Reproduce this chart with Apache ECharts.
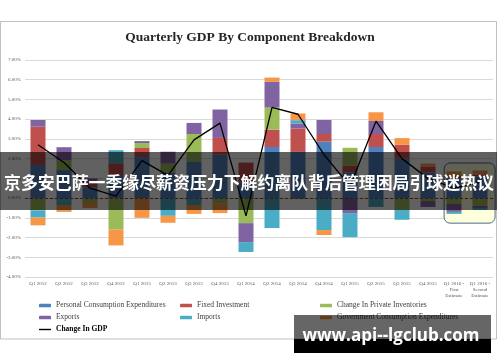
<!DOCTYPE html>
<html><head><meta charset="utf-8">
<script src="https://cdn.jsdelivr.net/npm/echarts@6/dist/echarts.min.js"></script>
<style>html,body{margin:0;padding:0;background:#fff}#c{width:500px;height:362px}</style>
</head><body><div id="c"></div>
<script>
const categories = ['Q1 2012','Q2 2012','Q3 2012','Q4 2012','Q1 2013','Q2 2013','Q3 2013','Q4 2013','Q1 2014','Q2 2014','Q3 2014','Q4 2014','Q1 2015','Q2 2015','Q3 2015','Q4 2015','Q1 2016 -\nFirst\nEstimate','Q1 2016 -\nSecond\nEstimate'];
const pce         = [1.68, 1.42, 0.55, 1.17, 2.08, 1.30, 1.83, 2.20, 0.80, 2.59, 2.34, 2.86, 1.30, 2.59, 2.00, 1.30, 1.00, 1.10];
const fixedInv    = [1.94, 0.00, 0.20, 0.60, 0.46, 0.00, 0.00, 0.85, 1.00, 0.88, 1.19, 0.39, 0.35, 0.66, 0.70, 0.30, 0.15, 0.10];
const inventories = [-0.62, 0.50, -0.25, -1.60, 0.25, 0.45, 1.42, -0.26, -1.27, 1.12, -0.05, 0.00, 0.90, 0.00, -0.60, -0.15, -0.30, -0.40];
const exportsC    = [0.34, 0.66, 0.25, 0.00, 0.10, 0.60, 0.56, 1.44, -0.96, 1.30, 0.25, 0.71, -0.76, 0.66, 0.00, -0.30, -0.40, -0.10];
const importsC    = [-0.37, -0.35, 0.00, 0.66, 0.00, -0.90, -0.35, 0.00, -0.50, -1.52, 0.17, -1.62, -1.22, -0.45, -0.50, 0.00, -0.10, -0.10];
const govC        = [-0.39, -0.35, -0.25, -0.80, -1.00, -0.35, -0.45, -0.50, 0.00, 0.22, 0.34, -0.25, 0.00, 0.44, 0.34, 0.15, 0.20, 0.20];
const gdpChange   = [2.70, 1.80, 0.50, 0.10, 1.90, 1.15, 2.95, 3.80, -0.90, 4.60, 4.25, 2.20, 0.60, 3.90, 2.00, 1.00, 0.50, 0.80];
const seriesNames = ['Personal Consumption Expenditures','Fixed Investment','Change In Private Inventories','Exports','Imports','Government Consumption Expenditures'];
const seriesColors = ['#4F81BD','#C0504D','#9BBB59','#8064A2','#4BACC6','#F79646'];
const seriesData = [pce, fixedInv, inventories, exportsC, importsC, govC];

const chart = echarts.init(document.getElementById('c'), null, {renderer:'canvas'});
const serif = '"Liberation Serif", "DejaVu Serif", serif';

const barSeries = seriesNames.map((n,i)=>({
  name:n, type:'bar', stack:'gdp', barWidth:15, data:seriesData[i],
  itemStyle:{color:seriesColors[i]}, z:2,
  markLine: i===0 ? {silent:true, symbol:'none', label:{show:false},
    lineStyle:{type:[3,2], color:'#9c3b38', width:1}, data:[{yAxis:0}]} : undefined
}));

const legendBase = {orient:'vertical', itemWidth:12, itemHeight:3.5, itemGap:3, padding:0,
  textStyle:{fontFamily:serif, fontSize:7.5, color:'#404040', lineHeight:9}};

chart.setOption({
  animation:false,
  title:{text:'Quarterly GDP By Component Breakdown', left:'center', top:26,
    textStyle:{fontFamily:serif, fontWeight:'bold', fontSize:13.5, color:'#262626'}},
  grid:{left:25, right:7, top:60, bottom:85},
  xAxis:{type:'category', data:categories, axisLine:{show:false}, axisTick:{show:false},
    axisLabel:{interval:0, fontSize:5, lineHeight:6, color:'#595959', margin:4, fontFamily:serif}},
  yAxis:{type:'value', min:-4, max:7, interval:1,
    axisLabel:{formatter:v=>v.toFixed(2)+'%', fontSize:5, color:'#595959', margin:4, fontFamily:serif},
    splitLine:{lineStyle:{color:'#d9d9d9', width:1}}, axisLine:{show:false}, axisTick:{show:false}},
  legend:[
    Object.assign({left:39, top:301, data:['Personal Consumption Expenditures','Exports',{name:'Change In GDP', icon:'path://M0,0 L12,0 L12,1.4 L0,1.4 Z', itemStyle:{color:'#000'}, textStyle:{fontWeight:'bold', color:'#000'}}]}, legendBase),
    Object.assign({left:180, top:301, data:['Fixed Investment','Imports']}, legendBase),
    Object.assign({left:320, top:301, data:['Change In Private Inventories','Government Consumption Expenditures']}, legendBase)
  ],
  series: barSeries.concat([{name:'Change In GDP', type:'line', data:gdpChange, symbol:'none',
    lineStyle:{color:'#000', width:1.3}, itemStyle:{color:'#000'}, z:5}])
});

const p16a = chart.convertToPixel({gridIndex:0}, [16, 1.78]);
const p16b = chart.convertToPixel({gridIndex:0}, [17, -1.27]);
const band = chart.convertToPixel({gridIndex:0}, [17, 0])[0] - chart.convertToPixel({gridIndex:0}, [16, 0])[0];
const hx = p16a[0] - band*0.38, hx2 = p16b[0] + band*0.58;

chart.setOption({graphic:[
  {type:'rect', z:-1, silent:true, shape:{x:0.5, y:21.5, width:496, height:317.5}, style:{fill:'#fff', stroke:'#c0c0c0', lineWidth:1}},
  {type:'rect', z:1, silent:true, shape:{x:hx, y:p16a[1], width:hx2-hx, height:p16b[1]-p16a[1], r:6}, style:{fill:'#FFFFDC', stroke:'#4a6a8c', lineWidth:1}},
  {type:'rect', z:100, silent:true, shape:{x:0, y:152, width:497, height:58}, style:{fill:'rgba(0,0,0,0.62)'}},
  {type:'text', z:101, silent:true, x:249, y:183, style:{text:'京多安巴萨一季缘尽薪资压力下解约离队背后管理困局引球迷热议', fill:'#fff', font:'bold 16.9px "Noto Sans CJK SC"', align:'center', verticalAlign:'middle'}},
  {type:'rect', z:100, silent:true, shape:{x:294, y:315, width:197, height:24}, style:{fill:'rgba(0,0,0,0.6)'}},
  {type:'rect', z:100, silent:true, shape:{x:294, y:339, width:197, height:14}, style:{fill:'#000'}},
  {type:'text', z:101, silent:true, x:391, y:336, style:{text:'www.api--lgclub.com', fill:'#fff', font:'bold 17px "Open Sans", "DejaVu Sans", sans-serif', align:'center', verticalAlign:'middle'}}
]});
</script></body></html>
